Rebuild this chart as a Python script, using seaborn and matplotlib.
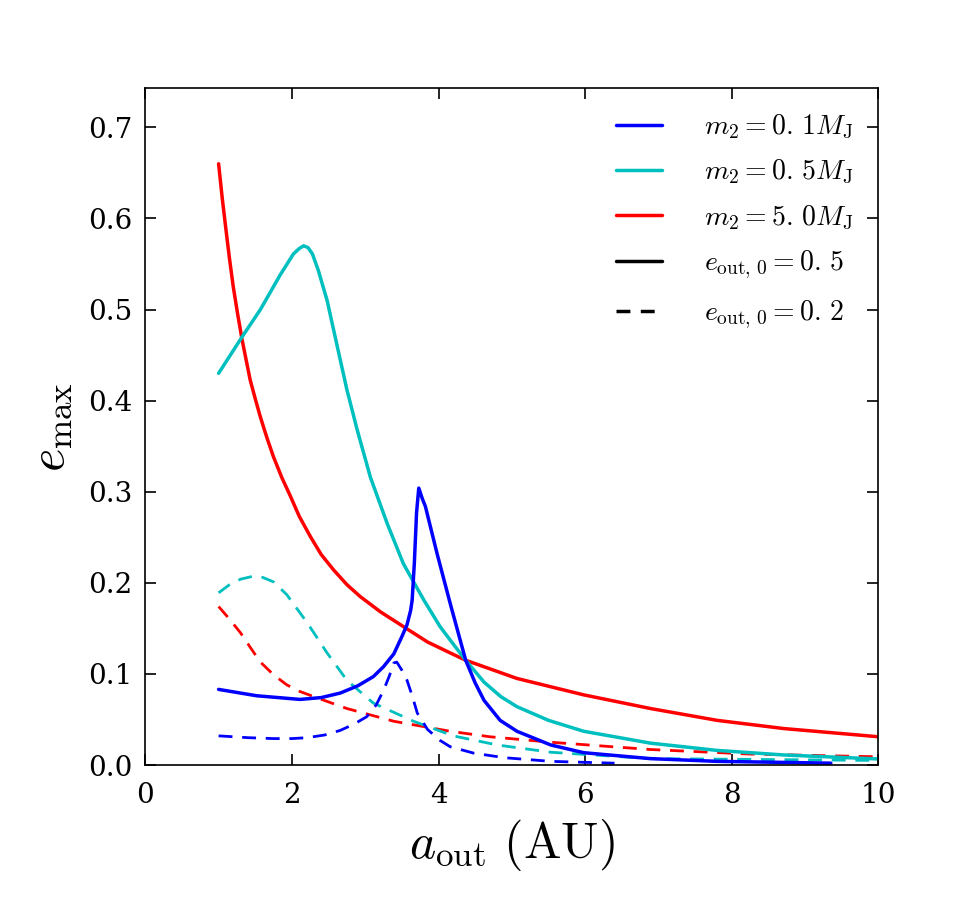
import matplotlib
matplotlib.use("Agg")
import matplotlib.pyplot as plt
from matplotlib.lines import Line2D
import seaborn as sns

# values (a_out in AU, e_max)
x_blue_solid = [1.0, 1.52, 2.11, 2.4, 2.66, 2.9, 3.11, 3.25, 3.39, 3.5, 3.57, 3.62, 3.64, 3.67, 3.70, 3.73,
                3.78, 3.82, 3.98, 4.16, 4.37, 4.5, 4.62, 4.84, 5.07, 5.53, 5.98, 6.89, 7.8, 8.6, 9.35]
y_blue_solid = [0.083, 0.076, 0.072, 0.074, 0.079, 0.087, 0.097, 0.108, 0.122, 0.141, 0.154, 0.17, 0.181, 0.222, 0.277, 0.304,
                0.292, 0.284, 0.232, 0.177, 0.115, 0.09, 0.071, 0.049, 0.037, 0.022, 0.0135, 0.007, 0.004, 0.003, 0.002]

x_cyan_solid = [1.0, 1.32, 1.57, 1.84, 2.02, 2.1, 2.16, 2.22, 2.28, 2.36, 2.48, 2.62, 2.75, 2.89, 3.07, 3.30,
                3.52, 3.80, 4.02, 4.16, 4.37, 4.62, 4.85, 5.07, 5.5, 5.98, 6.89, 7.8, 8.71, 10.0]
y_cyan_solid = [0.43, 0.47, 0.5, 0.538, 0.561, 0.567, 0.57, 0.568, 0.561, 0.543, 0.51, 0.459, 0.412, 0.368, 0.316, 0.265,
                0.221, 0.181, 0.152, 0.137, 0.115, 0.091, 0.075, 0.064, 0.049, 0.037, 0.024, 0.016, 0.011, 0.0066]

x_red_solid = [1.0, 1.05, 1.1, 1.15, 1.2, 1.26, 1.32, 1.43, 1.5, 1.57, 1.66, 1.75, 1.86, 1.98, 2.1, 2.25, 2.4, 2.57, 2.75,
               2.93, 3.21, 3.52, 3.85, 4.16, 4.37, 5.07, 5.98, 6.89, 7.8, 8.71, 10.0]
y_red_solid = [0.66, 0.622, 0.588, 0.555, 0.525, 0.495, 0.467, 0.423, 0.402, 0.382, 0.359, 0.338, 0.316, 0.295, 0.273, 0.251, 0.231, 0.214, 0.198,
               0.185, 0.168, 0.152, 0.135, 0.123, 0.115, 0.095, 0.077, 0.062, 0.049, 0.04, 0.031]

x_blue_dash = [1.0, 1.4, 1.75, 2.0, 2.21, 2.45, 2.66, 2.85, 3.02, 3.15, 3.25, 3.33, 3.39, 3.43, 3.5, 3.57, 3.64, 3.71, 3.85,
               4.02, 4.16, 4.48, 4.9, 5.53, 6.4]
y_blue_dash = [0.032, 0.03, 0.029, 0.029, 0.03, 0.033, 0.038, 0.045, 0.053, 0.066, 0.082, 0.098, 0.112, 0.113, 0.104, 0.093, 0.076, 0.057, 0.039,
               0.027, 0.02, 0.013, 0.008, 0.004, 0.002]

x_cyan_dash = [1.0, 1.15, 1.3, 1.46, 1.6, 1.75, 1.93, 2.21, 2.48, 2.75, 3.11, 3.66, 4.2, 4.8, 5.53, 6.89, 8.5, 10.0]
y_cyan_dash = [0.189, 0.198, 0.204, 0.207, 0.206, 0.201, 0.187, 0.156, 0.123, 0.093, 0.068, 0.048, 0.032, 0.022, 0.014, 0.007, 0.006, 0.005]

x_red_dash = [1.0, 1.15, 1.3, 1.45, 1.57, 1.75, 1.93, 2.1, 2.3, 2.75, 3.39, 4.16, 4.7, 5.53, 6.89, 8.25, 10.0]
y_red_dash = [0.174, 0.16, 0.145, 0.127, 0.113, 0.099, 0.088, 0.081, 0.075, 0.062, 0.048, 0.037, 0.031, 0.025, 0.017, 0.012, 0.009]

legend_labels = [r"$m_2=0.\,1M_{\rm J}$", r"$m_2=0.\,5M_{\rm J}$", r"$m_2=5.\,0M_{\rm J}$",
                 r"$e_{\rm out,\,0}=0.\,5$", r"$e_{\rm out,\,0}=0.\,2$"]

sns.set_style("ticks")
plt.rcParams["font.family"] = ["DejaVu Serif"]
plt.rcParams["mathtext.fontset"] = "cm"
plt.rcParams["text.color"] = "black"
plt.rcParams["axes.labelcolor"] = "black"
plt.rcParams["xtick.color"] = "black"
plt.rcParams["ytick.color"] = "black"

fig = plt.figure(figsize=(9.75, 9), dpi=100)
ax = fig.add_axes([0.149, 0.15, 0.752, 0.752])

dash_style = (0, (5, 3.5))
series = [
    (x_red_dash, y_red_dash, "r", dash_style, 2.0),
    (x_cyan_dash, y_cyan_dash, "c", dash_style, 2.0),
    (x_blue_dash, y_blue_dash, "b", dash_style, 2.0),
    (x_red_solid, y_red_solid, "r", "-", 2.5),
    (x_cyan_solid, y_cyan_solid, "c", "-", 2.5),
    (x_blue_solid, y_blue_solid, "b", "-", 2.5),
]
for xs, ys, col, ls, lw in series:
    sns.lineplot(x=xs, y=ys, color=col, linestyle=ls, linewidth=lw, sort=False, estimator=None, ax=ax)

ax.set_xlim(0, 10)
ax.set_ylim(0, 0.743)
ax.set_xticks([0, 2, 4, 6, 8, 10])
ax.set_yticks([0.0, 0.1, 0.2, 0.3, 0.4, 0.5, 0.6, 0.7])
ax.tick_params(direction="in", length=8, width=1.2, top=True, right=True, labelsize=20, colors="black")
ax.tick_params(axis="x", pad=12)
ax.tick_params(axis="y", pad=9)
for sp in ax.spines.values():
    sp.set_linewidth(1.2)
    sp.set_color("black")

ax.set_xlabel(r"$a_{\rm out}\ ({\rm AU})$", fontsize=36, labelpad=6)
ax.set_ylabel(r"$e_{\rm max}$", fontsize=36, labelpad=10)

handles = [
    Line2D([], [], color="b", lw=2.5),
    Line2D([], [], color="c", lw=2.5),
    Line2D([], [], color="r", lw=2.5),
    Line2D([], [], color="k", lw=2.5),
    Line2D([], [], color="k", lw=2.5, linestyle=(0, (4, 3))),
]
ax.legend(handles, legend_labels, loc="upper right", frameon=False, fontsize=20,
          handlelength=1.65, handletextpad=1.5, labelspacing=0.62, borderaxespad=0.5)

fig.savefig("out.png", dpi=100)
